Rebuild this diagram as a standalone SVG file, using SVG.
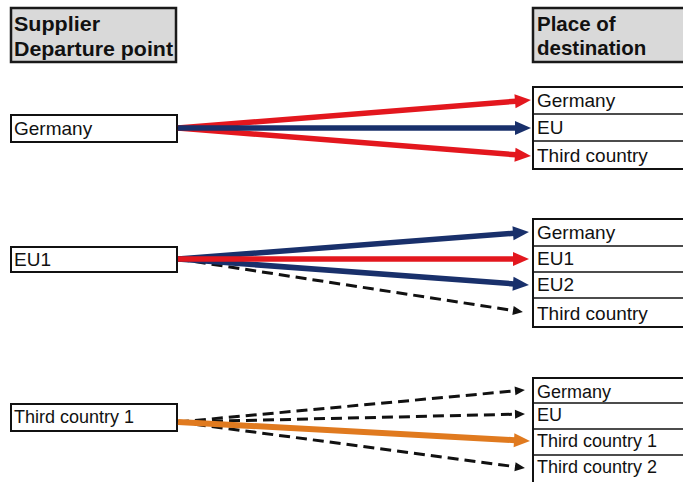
<svg xmlns="http://www.w3.org/2000/svg" width="683" height="482" viewBox="0 0 683 482">
  <style>
    .hdr { fill: #d9d9d9; stroke: #1a1a1a; stroke-width: 2.5; }
    .box { fill: #ffffff; stroke: #111111; stroke-width: 2; }
    .div { stroke: #111111; stroke-width: 1.6; }
    .ht { font-family: "Liberation Sans", Arial, sans-serif; font-weight: bold; font-size: 20.5px; fill: #111111; }
    .t { font-family: "Liberation Sans", Arial, sans-serif; font-size: 19px; fill: #111111; }
    .ts { font-family: "Liberation Sans", Arial, sans-serif; font-size: 18px; fill: #111111; }
    .red { stroke: #e3171e; stroke-width: 5.5; fill: none; }
    .blue { stroke: #19306b; stroke-width: 5.5; fill: none; }
    .orange { stroke: #e07a1f; stroke-width: 6; fill: none; }
    .dash { stroke: #111111; stroke-width: 3; stroke-dasharray: 11 6; fill: none; }
  </style>
  <defs>
    <marker id="ah-red" markerUnits="userSpaceOnUse" markerWidth="17" markerHeight="15" refX="1" refY="7" orient="auto" overflow="visible">
      <path d="M0,0 L16,7 L0,14 Z" fill="#e3171e"/>
    </marker>
    <marker id="ah-blue" markerUnits="userSpaceOnUse" markerWidth="17" markerHeight="15" refX="1" refY="7" orient="auto" overflow="visible">
      <path d="M0,0 L16,7 L0,14 Z" fill="#19306b"/>
    </marker>
    <marker id="ah-orange" markerUnits="userSpaceOnUse" markerWidth="17" markerHeight="15" refX="1" refY="7" orient="auto" overflow="visible">
      <path d="M0,0 L16,7 L0,14 Z" fill="#e07a1f"/>
    </marker>
    <marker id="ah-black" markerUnits="userSpaceOnUse" markerWidth="11" markerHeight="10" refX="1" refY="4.5" orient="auto" overflow="visible">
      <path d="M0,0 L10,4.5 L0,9 Z" fill="#111111"/>
    </marker>
  </defs>

  <!-- column headers -->
  <g id="hdr-supplier">
    <rect class="hdr" x="11" y="8" width="165" height="54"/>
    <text class="ht" x="14" y="31" textLength="86" lengthAdjust="spacingAndGlyphs">Supplier</text>
    <text class="ht" x="14" y="56" textLength="159" lengthAdjust="spacingAndGlyphs">Departure point</text>
  </g>
  <g id="hdr-destination">
    <rect class="hdr" x="533" y="8" width="160" height="54"/>
    <text class="ht" x="537" y="31">Place of</text>
    <text class="ht" x="537" y="55">destination</text>
  </g>

  <!-- departure points -->
  <g id="src-germany">
    <rect class="box" x="11" y="115" width="166" height="27"/>
    <text class="t" x="14" y="135">Germany</text>
  </g>
  <g id="src-eu1">
    <rect class="box" x="11" y="247" width="166" height="25"/>
    <text class="t" x="14" y="266">EU1</text>
  </g>
  <g id="src-third1">
    <rect class="box" x="11" y="404" width="166" height="27"/>
    <text class="ts" x="14" y="423">Third country 1</text>
  </g>

  <!-- destinations for Germany -->
  <g id="dst-1">
    <rect class="box" x="533" y="87" width="160" height="82"/>
    <line class="div" x1="533" y1="114" x2="693" y2="114"/>
    <line class="div" x1="533" y1="141" x2="693" y2="141"/>
    <text class="t" x="537" y="107">Germany</text>
    <text class="t" x="537" y="134">EU</text>
    <text class="t" x="537" y="162">Third country</text>
  </g>

  <!-- destinations for EU1 -->
  <g id="dst-2">
    <rect class="box" x="533" y="219" width="160" height="108"/>
    <line class="div" x1="533" y1="246" x2="693" y2="246"/>
    <line class="div" x1="533" y1="272" x2="693" y2="272"/>
    <line class="div" x1="533" y1="298" x2="693" y2="298"/>
    <text class="t" x="537" y="239">Germany</text>
    <text class="t" x="537" y="265">EU1</text>
    <text class="t" x="537" y="291">EU2</text>
    <text class="t" x="537" y="320">Third country</text>
  </g>

  <!-- destinations for Third country 1 -->
  <g id="dst-3">
    <rect class="box" x="533" y="378" width="160" height="106"/>
    <line class="div" x1="533" y1="403" x2="693" y2="403"/>
    <line class="div" x1="533" y1="429" x2="693" y2="429"/>
    <line class="div" x1="533" y1="455" x2="693" y2="455"/>
    <text class="ts" x="537" y="398">Germany</text>
    <text class="ts" x="537" y="421">EU</text>
    <text class="ts" x="537" y="447">Third country 1</text>
    <text class="ts" x="537" y="473">Third country 2</text>
  </g>

  <!-- connectors -->
  <g id="connectors">
    <line class="red" x1="178" y1="128" x2="516" y2="101.2" marker-end="url(#ah-red)"/>
    <line class="red" x1="178" y1="128" x2="516" y2="154.8" marker-end="url(#ah-red)"/>
    <line class="blue" x1="178" y1="128" x2="516" y2="128" marker-end="url(#ah-blue)"/>

    <line class="dash" x1="178" y1="259" x2="514" y2="310.6" marker-end="url(#ah-black)"/>
    <line class="blue" x1="178" y1="259" x2="514" y2="233.2" marker-end="url(#ah-blue)"/>
    <line class="blue" x1="178" y1="259" x2="514" y2="283.9" marker-end="url(#ah-blue)"/>
    <line class="red" x1="178" y1="259" x2="514" y2="259" marker-end="url(#ah-red)"/>

    <line class="dash" x1="178" y1="422" x2="516" y2="390.8" marker-end="url(#ah-black)"/>
    <line class="dash" x1="178" y1="422" x2="516" y2="414.2" marker-end="url(#ah-black)"/>
    <line class="dash" x1="178" y1="422" x2="516" y2="466.8" marker-end="url(#ah-black)"/>
    <line class="orange" x1="178" y1="422" x2="515" y2="440.2" marker-end="url(#ah-orange)"/>
  </g>
</svg>
